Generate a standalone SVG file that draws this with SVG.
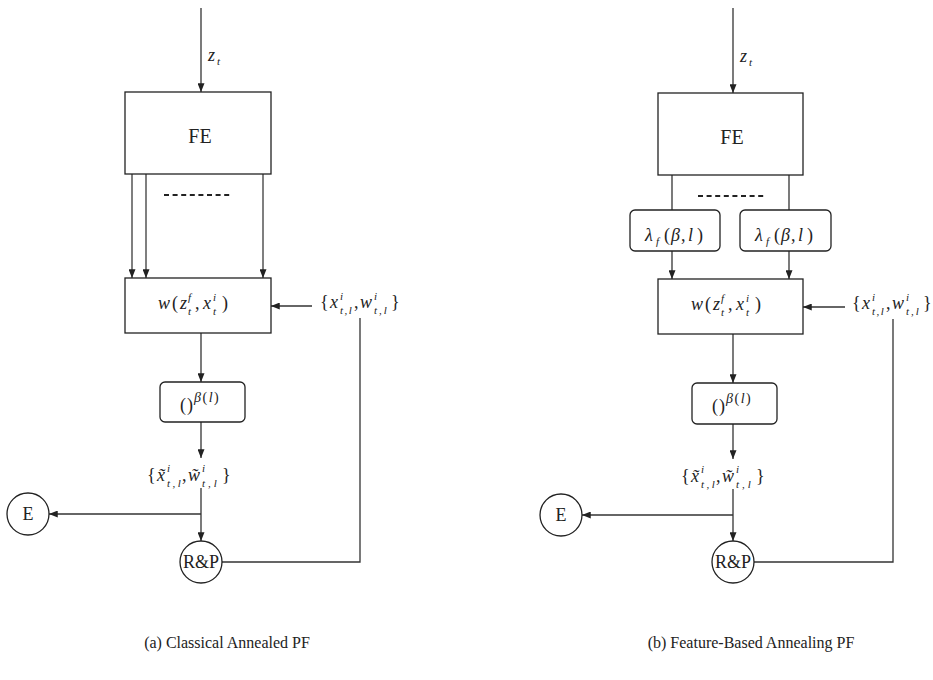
<svg xmlns="http://www.w3.org/2000/svg" width="933" height="680" viewBox="0 0 933 680">
<style>
.box{fill:#fff;stroke:#222;stroke-width:1.3}
.rbox{fill:#fff;stroke:#222;stroke-width:1.3}
.ln{fill:none;stroke:#333;stroke-width:1.3}
.gl{fill:none;stroke:#555;stroke-width:1.5}
.dash{fill:none;stroke:#222;stroke-width:2;stroke-dasharray:5 3.6}
.m{font-family:"Liberation Serif","DejaVu Serif",serif;font-size:18px;fill:#222}
.fe{font-size:20px}
.i{font-style:italic}
.s{font-size:11px}
.cap{font-family:"Liberation Serif","DejaVu Serif",serif;font-size:16px;fill:#222}
</style>
<defs>
<marker id="ah" viewBox="0 0 10 8" refX="10" refY="4" markerWidth="9" markerHeight="7" markerUnits="userSpaceOnUse" orient="auto">
<path d="M0,0 L10,4 L0,8 z" fill="#222"/>
</marker>
</defs>
<rect width="933" height="680" fill="#fff"/>

<g id="connectors">
<line class="ln" x1="201" y1="8" x2="201" y2="92" marker-end="url(#ah)"/>
<line class="gl" x1="132" y1="174" x2="132" y2="278" marker-end="url(#ah)"/>
<line class="gl" x1="146" y1="174" x2="146" y2="278" marker-end="url(#ah)"/>
<line class="gl" x1="263" y1="174" x2="263" y2="278" marker-end="url(#ah)"/>
<line class="ln" x1="312" y1="306" x2="271" y2="306" marker-end="url(#ah)"/>
<polyline class="ln" points="360,318 360,562 222,562"/>
<line class="ln" x1="201" y1="333" x2="201" y2="382" marker-end="url(#ah)"/>
<line class="ln" x1="201" y1="422" x2="201" y2="458" marker-end="url(#ah)"/>
<line class="ln" x1="201" y1="488" x2="201" y2="541" marker-end="url(#ah)"/>
<line class="ln" x1="201" y1="514" x2="49" y2="514" marker-end="url(#ah)"/>
<line class="ln" x1="733" y1="8" x2="733" y2="93" marker-end="url(#ah)"/>
<line class="ln" x1="672" y1="175" x2="672" y2="210"/>
<line class="ln" x1="789" y1="175" x2="789" y2="210"/>
<line class="ln" x1="672" y1="251" x2="672" y2="279" marker-end="url(#ah)"/>
<line class="ln" x1="789" y1="251" x2="789" y2="279" marker-end="url(#ah)"/>
<line class="ln" x1="845" y1="307" x2="803" y2="307" marker-end="url(#ah)"/>
<polyline class="ln" points="893,319 893,562 754,562"/>
<line class="ln" x1="733" y1="334" x2="733" y2="383" marker-end="url(#ah)"/>
<line class="ln" x1="733" y1="424" x2="733" y2="459" marker-end="url(#ah)"/>
<line class="ln" x1="733" y1="489" x2="733" y2="541" marker-end="url(#ah)"/>
<line class="ln" x1="733" y1="515" x2="582" y2="515" marker-end="url(#ah)"/>
</g>

<g id="a-zt">
<text class="m"><tspan x="208" y="61" class="i">z</tspan><tspan x="217" y="65" class="s i">t</tspan></text>
</g>
<g id="a-fe">
<rect class="box" x="125" y="92" width="146" height="82"/>
<text class="m fe" x="200" y="143" text-anchor="middle">FE</text>
</g>
<g id="a-dots">
<line class="dash" x1="164" y1="195" x2="232" y2="195"/>
</g>
<g id="a-w">
<rect class="box" x="125" y="278" width="146" height="55"/>
<text class="m"><tspan x="158" y="309" class="i">w</tspan><tspan x="172" y="309">(</tspan><tspan x="180" y="309" class="i">z</tspan><tspan x="188" y="301" class="s i">f</tspan><tspan x="188" y="315" class="s i">t</tspan><tspan x="195" y="309">,</tspan><tspan x="203" y="309" class="i">x</tspan><tspan x="213" y="301" class="s i">i</tspan><tspan x="213" y="315" class="s i">t</tspan><tspan x="222" y="309">)</tspan></text>
</g>
<g id="a-set">
<text class="m"><tspan x="320" y="308">{</tspan><tspan x="330" y="308" class="i">x</tspan><tspan x="340" y="300" class="s i">i</tspan><tspan x="340" y="314" class="s" letter-spacing="1.5"><tspan class="i">t</tspan>,<tspan class="i">l</tspan></tspan><tspan x="354" y="308">,</tspan><tspan x="360" y="308" class="i">w</tspan><tspan x="374" y="300" class="s i">i</tspan><tspan x="374" y="314" class="s" letter-spacing="2"><tspan class="i">t</tspan>,<tspan class="i">l</tspan></tspan><tspan x="391" y="308">}</tspan></text>
</g>
<g id="a-beta">
<rect class="rbox" x="160" y="382" width="85" height="40" rx="5"/>
<text class="m"><tspan x="180" y="411">(</tspan><tspan x="187" y="411">)</tspan><tspan x="194" y="402" font-size="14" letter-spacing="1.5"><tspan class="i">β</tspan>(<tspan class="i">l</tspan>)</tspan></text>
</g>
<g id="a-tset">
<text class="m"><tspan x="147" y="481">{</tspan><tspan x="157" y="481" class="i">x̃</tspan><tspan x="167" y="472" class="s i">i</tspan><tspan x="167" y="487" class="s" letter-spacing="2.5"><tspan class="i">t</tspan>,<tspan class="i">l</tspan></tspan><tspan x="182" y="481">,</tspan><tspan x="188" y="481" class="i">w̃</tspan><tspan x="202" y="472" class="s i">i</tspan><tspan x="202" y="487" class="s" letter-spacing="3"><tspan class="i">t</tspan>,<tspan class="i">l</tspan></tspan><tspan x="222" y="481">}</tspan></text>
</g>
<g id="a-e">
<circle class="box" cx="28" cy="514" r="21"/>
<text class="m" x="28" y="520" text-anchor="middle">E</text>
</g>
<g id="a-rp">
<circle class="box" cx="201" cy="562" r="21"/>
<text class="m" x="201" y="568" text-anchor="middle">R&amp;P</text>
</g>
<g id="a-caption">
<text class="cap" x="227" y="648" text-anchor="middle">(a) Classical Annealed PF</text>
</g>

<g id="b-zt">
<text class="m"><tspan x="740" y="62" class="i">z</tspan><tspan x="749" y="66" class="s i">t</tspan></text>
</g>
<g id="b-fe">
<rect class="box" x="658" y="93" width="145" height="82"/>
<text class="m fe" x="732" y="144" text-anchor="middle">FE</text>
</g>
<g id="b-dots">
<line class="dash" x1="698" y1="196" x2="765" y2="196"/>
</g>
<g id="b-lambda1">
<rect class="rbox" x="630" y="210" width="90" height="41" rx="5"/>
<text class="m"><tspan x="645" y="241" class="i">λ</tspan><tspan x="656" y="245" class="s i">f</tspan><tspan x="664" y="241">(</tspan><tspan x="671" y="241" class="i">β</tspan><tspan x="681" y="241">,</tspan><tspan x="688" y="241" class="i">l</tspan><tspan x="697" y="241">)</tspan></text>
</g>
<g id="b-lambda2">
<rect class="rbox" x="740" y="210" width="91" height="41" rx="5"/>
<text class="m"><tspan x="755" y="241" class="i">λ</tspan><tspan x="766" y="245" class="s i">f</tspan><tspan x="774" y="241">(</tspan><tspan x="781" y="241" class="i">β</tspan><tspan x="791" y="241">,</tspan><tspan x="798" y="241" class="i">l</tspan><tspan x="807" y="241">)</tspan></text>
</g>
<g id="b-w">
<rect class="box" x="658" y="279" width="145" height="55"/>
<text class="m"><tspan x="691" y="310" class="i">w</tspan><tspan x="705" y="310">(</tspan><tspan x="713" y="310" class="i">z</tspan><tspan x="721" y="302" class="s i">f</tspan><tspan x="721" y="316" class="s i">t</tspan><tspan x="728" y="310">,</tspan><tspan x="736" y="310" class="i">x</tspan><tspan x="746" y="302" class="s i">i</tspan><tspan x="746" y="316" class="s i">t</tspan><tspan x="755" y="310">)</tspan></text>
</g>
<g id="b-set">
<text class="m"><tspan x="852" y="309">{</tspan><tspan x="862" y="309" class="i">x</tspan><tspan x="872" y="301" class="s i">i</tspan><tspan x="872" y="315" class="s" letter-spacing="1.5"><tspan class="i">t</tspan>,<tspan class="i">l</tspan></tspan><tspan x="886" y="309">,</tspan><tspan x="892" y="309" class="i">w</tspan><tspan x="906" y="301" class="s i">i</tspan><tspan x="906" y="315" class="s" letter-spacing="2"><tspan class="i">t</tspan>,<tspan class="i">l</tspan></tspan><tspan x="923" y="309">}</tspan></text>
</g>
<g id="b-beta">
<rect class="rbox" x="692" y="383" width="85" height="41" rx="5"/>
<text class="m"><tspan x="712" y="412">(</tspan><tspan x="719" y="412">)</tspan><tspan x="726" y="403" font-size="14" letter-spacing="1.5"><tspan class="i">β</tspan>(<tspan class="i">l</tspan>)</tspan></text>
</g>
<g id="b-tset">
<text class="m"><tspan x="681" y="482">{</tspan><tspan x="691" y="482" class="i">x̃</tspan><tspan x="701" y="473" class="s i">i</tspan><tspan x="701" y="488" class="s" letter-spacing="2.5"><tspan class="i">t</tspan>,<tspan class="i">l</tspan></tspan><tspan x="716" y="482">,</tspan><tspan x="722" y="482" class="i">w̃</tspan><tspan x="736" y="473" class="s i">i</tspan><tspan x="736" y="488" class="s" letter-spacing="3"><tspan class="i">t</tspan>,<tspan class="i">l</tspan></tspan><tspan x="756" y="482">}</tspan></text>
</g>
<g id="b-e">
<circle class="box" cx="561" cy="515" r="21"/>
<text class="m" x="561" y="521" text-anchor="middle">E</text>
</g>
<g id="b-rp">
<circle class="box" cx="733" cy="562" r="21"/>
<text class="m" x="733" y="568" text-anchor="middle">R&amp;P</text>
</g>
<g id="b-caption">
<text class="cap" x="751" y="648" text-anchor="middle">(b) Feature-Based Annealing PF</text>
</g>
</svg>
